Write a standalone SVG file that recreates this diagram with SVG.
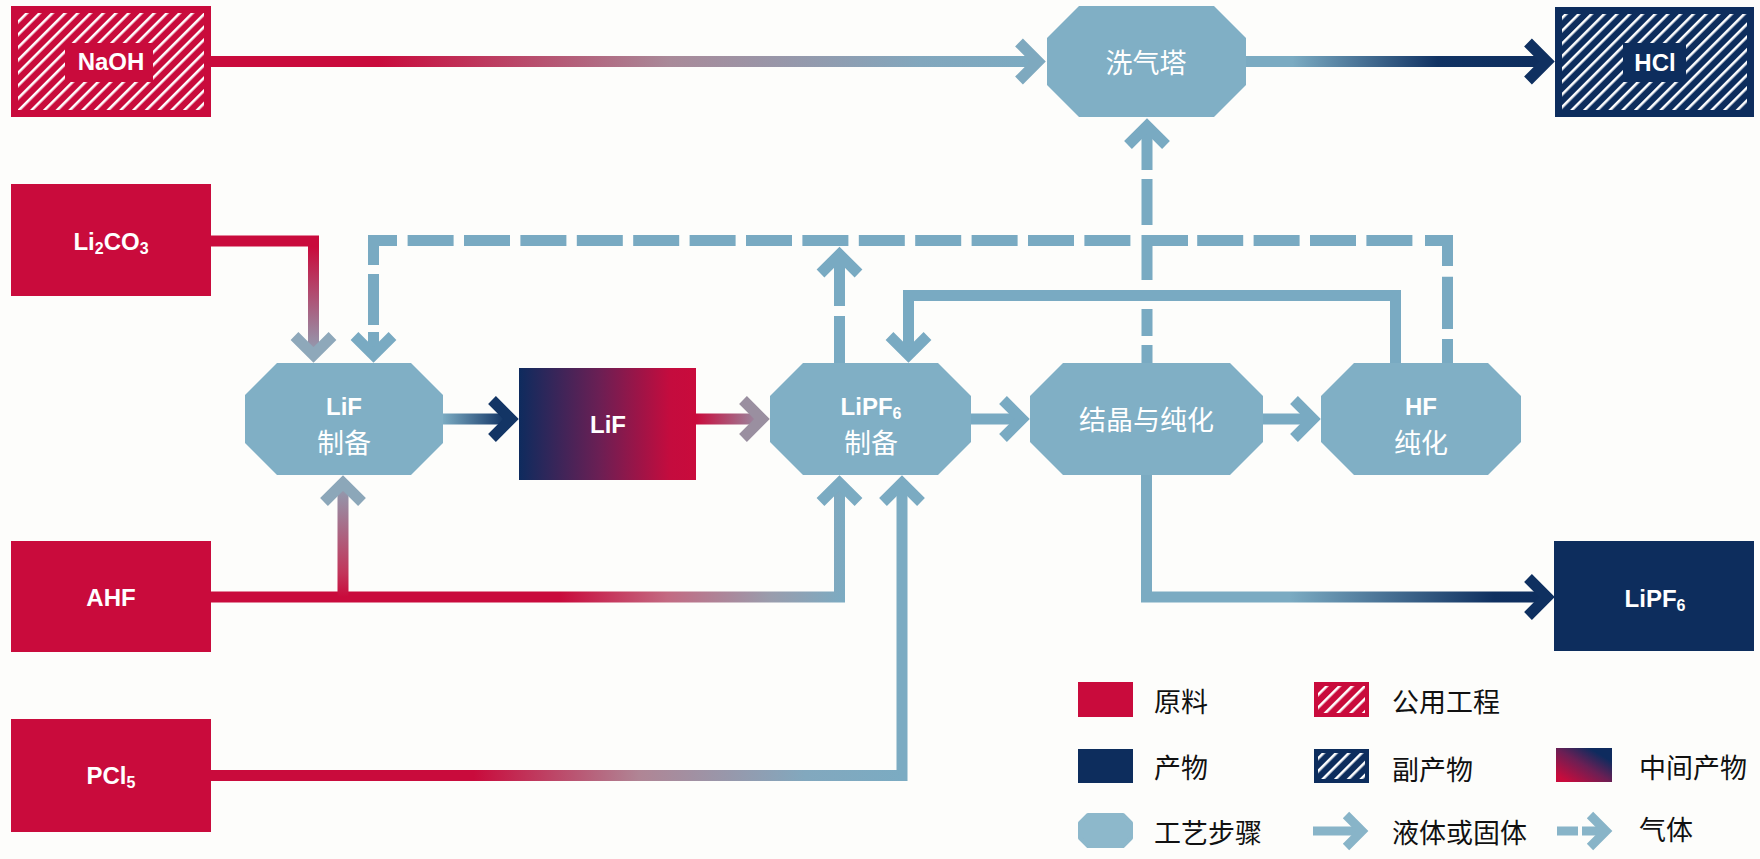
<svg xmlns="http://www.w3.org/2000/svg" width="1760" height="859" viewBox="0 0 1760 859">
<defs>
<style>
.raw{fill:#c90b3c}
.prod{fill:#0d2d5d}
.step{fill:#80afc5}
.lbl{font-family:"Liberation Sans",Arial,sans-serif;font-weight:bold;font-size:24px;fill:#fff}
.sub{font-size:16px}
.cjk{font-family:"Noto Sans CJK SC","Noto Sans",sans-serif;font-size:27px;fill:#fff}
.leg{font-family:"Noto Sans CJK SC","Noto Sans",sans-serif;font-size:27px;fill:#111}
.ln{fill:none;stroke-width:11;stroke-linejoin:miter;stroke-linecap:butt}
.blue{stroke:#79aac2}
</style>
<pattern id="hatch" patternUnits="userSpaceOnUse" width="9" height="9" patternTransform="rotate(45)"><rect width="2.6" height="9" fill="#ffffff"/></pattern>
<path id="chev" d="M-27,-19 L-8,0 L-27,19" fill="none" stroke-width="11" stroke-linejoin="miter" stroke-linecap="butt"/>
<linearGradient id="g1" gradientUnits="userSpaceOnUse" x1="211" y1="0" x2="1046" y2="0"><stop offset="0" stop-color="#c90b3c"/><stop offset="0.2" stop-color="#c90b3c"/><stop offset="0.55" stop-color="#a98a99"/><stop offset="0.85" stop-color="#82a7bd"/><stop offset="1" stop-color="#7babc2"/></linearGradient>
<linearGradient id="g2" gradientUnits="userSpaceOnUse" x1="1246" y1="0" x2="1555" y2="0"><stop offset="0" stop-color="#7babc2"/><stop offset="0.15" stop-color="#7babc2"/><stop offset="0.62" stop-color="#113363"/><stop offset="1" stop-color="#0d2d5d"/></linearGradient>
<linearGradient id="g3" gradientUnits="userSpaceOnUse" x1="0" y1="247" x2="0" y2="360"><stop offset="0" stop-color="#c90b3c"/><stop offset="1" stop-color="#8ea8ba"/></linearGradient>
<linearGradient id="g4" gradientUnits="userSpaceOnUse" x1="211" y1="0" x2="845" y2="0"><stop offset="0" stop-color="#c90b3c"/><stop offset="0.55" stop-color="#c90b3c"/><stop offset="0.72" stop-color="#c36a82"/><stop offset="0.88" stop-color="#9a9cac"/><stop offset="1" stop-color="#7babc2"/></linearGradient>
<linearGradient id="g5" gradientUnits="userSpaceOnUse" x1="0" y1="597" x2="0" y2="478"><stop offset="0" stop-color="#c90b3c"/><stop offset="0.2" stop-color="#c2355a"/><stop offset="1" stop-color="#8ca7b9"/></linearGradient>
<linearGradient id="g6" gradientUnits="userSpaceOnUse" x1="211" y1="0" x2="902" y2="0"><stop offset="0" stop-color="#c90b3c"/><stop offset="0.38" stop-color="#c90b3c"/><stop offset="0.62" stop-color="#b08595"/><stop offset="0.86" stop-color="#82a8be"/><stop offset="1" stop-color="#7babc2"/></linearGradient>
<linearGradient id="g7" gradientUnits="userSpaceOnUse" x1="443" y1="0" x2="519" y2="0"><stop offset="0" stop-color="#7babc2"/><stop offset="0.8" stop-color="#143666"/><stop offset="1" stop-color="#0f3060"/></linearGradient>
<linearGradient id="g8" gradientUnits="userSpaceOnUse" x1="696" y1="0" x2="770" y2="0"><stop offset="0" stop-color="#c90b3c"/><stop offset="1" stop-color="#8fa3b5"/></linearGradient>
<linearGradient id="g9" gradientUnits="userSpaceOnUse" x1="1147" y1="0" x2="1555" y2="0"><stop offset="0" stop-color="#7babc2"/><stop offset="0.35" stop-color="#7babc2"/><stop offset="0.85" stop-color="#0f3060"/><stop offset="1" stop-color="#0d2d5d"/></linearGradient>
<linearGradient id="gLiF" x1="0" y1="0" x2="1" y2="0"><stop offset="0" stop-color="#0e2b5e"/><stop offset="0.45" stop-color="#6a1f54"/><stop offset="0.85" stop-color="#c40c3e"/><stop offset="1" stop-color="#c90b3c"/></linearGradient>
<linearGradient id="gMid" x1="0" y1="1" x2="1" y2="0"><stop offset="0.1" stop-color="#c90b3c"/><stop offset="0.5" stop-color="#6a1f54"/><stop offset="0.8" stop-color="#0e2b5e"/></linearGradient>
</defs>

<rect width="1760" height="859" fill="#fdfdfb"/>

<g id="connectors">
  <!-- liquid / solid flows -->
  <path class="ln" d="M211,61.5 H1040" stroke="url(#g1)"/>
  <use href="#chev" transform="translate(1046,61.5)" stroke="#7ea9bf"/>
  <path class="ln" d="M1246,61.5 H1549" stroke="url(#g2)"/>
  <use href="#chev" transform="translate(1555,61.5)" stroke="#0f3060"/>
  <path class="ln" d="M211,241 H313.5 V357" stroke="url(#g3)"/>
  <use href="#chev" transform="translate(313.5,363) rotate(90)" stroke="#8ea8ba"/>
  <path class="ln" d="M211,597 H839.5 V481" stroke="url(#g4)"/>
  <use href="#chev" transform="translate(839.5,475) rotate(-90)" stroke="#7babc2"/>
  <path class="ln" d="M343,597 V481" stroke="url(#g5)"/>
  <use href="#chev" transform="translate(343,475) rotate(-90)" stroke="#8ca7b9"/>
  <path class="ln" d="M211,775.5 H902 V481" stroke="url(#g6)"/>
  <use href="#chev" transform="translate(902,475) rotate(-90)" stroke="#7babc2"/>
  <path class="ln" d="M443,419 H513" stroke="url(#g7)"/>
  <use href="#chev" transform="translate(519,419)" stroke="#133565"/>
  <path class="ln" d="M696,419 H764" stroke="url(#g8)"/>
  <use href="#chev" transform="translate(770,419)" stroke="#9a8fa0"/>
  <path class="ln blue" d="M971,419 H1024"/>
  <use href="#chev" transform="translate(1030,419)" stroke="#79aac2"/>
  <path class="ln blue" d="M1263,419 H1315"/>
  <use href="#chev" transform="translate(1321,419)" stroke="#79aac2"/>
  <path class="ln" d="M1146.5,475 V597 H1549" stroke="url(#g9)"/>
  <use href="#chev" transform="translate(1555,597)" stroke="#0f3060"/>
  <path class="ln blue" d="M1395.5,363 V295.5 H908.5 V357"/>
  <use href="#chev" transform="translate(908.5,363) rotate(90)" stroke="#79aac2"/>

  <!-- gas flows (dashed) -->
  <path class="ln blue" d="M1447.5,363 V339 M1447.5,329 V276.7 M1447.5,266 V240.5 H1425"/>
  <path class="ln blue" d="M407.6,240.5 h46 M464,240.5 h46 M520.4,240.5 h46 M576.8,240.5 h46 M633.2,240.5 h46 M689.6,240.5 h46 M746,240.5 h46 M802.4,240.5 h46 M858.8,240.5 h46 M915.2,240.5 h46 M971.6,240.5 h46 M1028,240.5 h46 M1084.4,240.5 h46 M1197.2,240.5 h46 M1253.6,240.5 h46 M1310,240.5 h46 M1366.4,240.5 h46"/>
  <path class="ln blue" d="M1188,240.5 H1147 V280"/>
  <path class="ln blue" d="M1147,363 V345 M1147,336 V309 M1147,225 V179 M1147,170 V124"/>
  <use href="#chev" transform="translate(1147,118) rotate(-90)" stroke="#79aac2"/>
  <path class="ln blue" d="M839.5,363 V316 M839.5,306 V253"/>
  <use href="#chev" transform="translate(839.5,246.5) rotate(-90)" stroke="#79aac2"/>
  <path class="ln blue" d="M397,240.5 H373.5 V265 M373.5,274 V325 M373.5,332 V357"/>
  <use href="#chev" transform="translate(373.5,363) rotate(90)" stroke="#79aac2"/>
</g>

<g id="naoh">
  <rect class="raw" x="11" y="6" width="200" height="111"/>
  <rect x="18" y="13" width="186" height="97" fill="url(#hatch)"/>
  <rect class="raw" x="65" y="43" width="88" height="39"/>
  <text class="lbl" x="111" y="70" text-anchor="middle">NaOH</text>
</g>
<g id="li2co3">
  <rect class="raw" x="11" y="184" width="200" height="112"/>
  <text class="lbl" x="111" y="249.5" text-anchor="middle">Li<tspan class="sub" dy="4">2</tspan><tspan dy="-4">CO</tspan><tspan class="sub" dy="4">3</tspan></text>
</g>
<g id="ahf">
  <rect class="raw" x="11" y="541" width="200" height="111"/>
  <text class="lbl" x="111" y="605.5" text-anchor="middle">AHF</text>
</g>
<g id="pcl5">
  <rect class="raw" x="11" y="719" width="200" height="113"/>
  <text class="lbl" x="111" y="784" text-anchor="middle">PCl<tspan class="sub" dy="4">5</tspan></text>
</g>
<g id="scrubber">
  <polygon class="step" points="1079,6 1214,6 1246,38 1246,85 1214,117 1079,117 1047,85 1047,38"/>
  <text class="cjk" x="1146" y="73" text-anchor="middle">洗气塔</text>
</g>
<g id="hcl">
  <rect class="prod" x="1555" y="7" width="199" height="110"/>
  <rect x="1562" y="14" width="185" height="96" fill="url(#hatch)"/>
  <rect class="prod" x="1623" y="43" width="63" height="39"/>
  <text class="lbl" x="1655" y="70.5" text-anchor="middle">HCl</text>
</g>
<g id="lif-prep">
  <polygon class="step" points="277,363 411,363 443,395 443,443 411,475 277,475 245,443 245,395"/>
  <text class="lbl" x="344" y="414.5" text-anchor="middle">LiF</text>
  <text class="cjk" x="344" y="453" text-anchor="middle">制备</text>
</g>
<g id="lif">
  <rect x="519" y="368" width="177" height="112" fill="url(#gLiF)"/>
  <text class="lbl" x="608" y="432.5" text-anchor="middle">LiF</text>
</g>
<g id="lipf6-prep">
  <polygon class="step" points="803,363 938,363 971,396 971,442 938,475 803,475 770,442 770,396"/>
  <text class="lbl" x="871" y="414.5" text-anchor="middle">LiPF<tspan class="sub" dy="4">6</tspan></text>
  <text class="cjk" x="871" y="453" text-anchor="middle">制备</text>
</g>
<g id="crystallization">
  <polygon class="step" points="1063,363 1230,363 1263,396 1263,442 1230,475 1063,475 1030,442 1030,396"/>
  <text class="cjk" x="1146.5" y="429.5" text-anchor="middle">结晶与纯化</text>
</g>
<g id="hf-purify">
  <polygon class="step" points="1354,363 1488,363 1521,396 1521,442 1488,475 1354,475 1321,442 1321,396"/>
  <text class="lbl" x="1421" y="414.5" text-anchor="middle">HF</text>
  <text class="cjk" x="1421" y="453" text-anchor="middle">纯化</text>
</g>
<g id="lipf6">
  <rect class="prod" x="1554" y="541" width="200" height="110"/>
  <text class="lbl" x="1655" y="606.5" text-anchor="middle">LiPF<tspan class="sub" dy="4">6</tspan></text>
</g>

<g id="legend">
  <rect class="raw" x="1078" y="682" width="55" height="35"/>
  <text class="leg" x="1154" y="712">原料</text>
  <rect class="raw" x="1314" y="682" width="55" height="35"/>
  <rect x="1318" y="686" width="47" height="27" fill="url(#hatch)"/>
  <text class="leg" x="1392" y="712">公用工程</text>
  <rect class="prod" x="1078" y="749" width="55" height="34"/>
  <text class="leg" x="1154" y="778">产物</text>
  <rect class="prod" x="1314" y="749" width="55" height="34"/>
  <rect x="1318" y="753" width="47" height="26" fill="url(#hatch)"/>
  <text class="leg" x="1392" y="780">副产物</text>
  <rect x="1556" y="748" width="56" height="34" fill="url(#gMid)"/>
  <text class="leg" x="1639" y="778">中间产物</text>
  <path d="M1088,815 H1123 L1131,823 V838 L1123,846 H1088 L1080,838 V823 Z" fill="#8db8cb" stroke="#8db8cb" stroke-width="4" stroke-linejoin="round"/>
  <text class="leg" x="1154" y="843">工艺步骤</text>
  <path d="M1313,831 H1360" fill="none" stroke="#88b4c8" stroke-width="9"/>
  <path d="M1346,815 L1362,831 L1346,847" fill="none" stroke="#88b4c8" stroke-width="9" stroke-linejoin="miter"/>
  <text class="leg" x="1392" y="843">液体或固体</text>
  <path d="M1557,831 H1578 M1582,831 H1604" fill="none" stroke="#88b4c8" stroke-width="9"/>
  <path d="M1590,815 L1606,831 L1590,847" fill="none" stroke="#88b4c8" stroke-width="9" stroke-linejoin="miter"/>
  <text class="leg" x="1639" y="840">气体</text>
</g>
</svg>
